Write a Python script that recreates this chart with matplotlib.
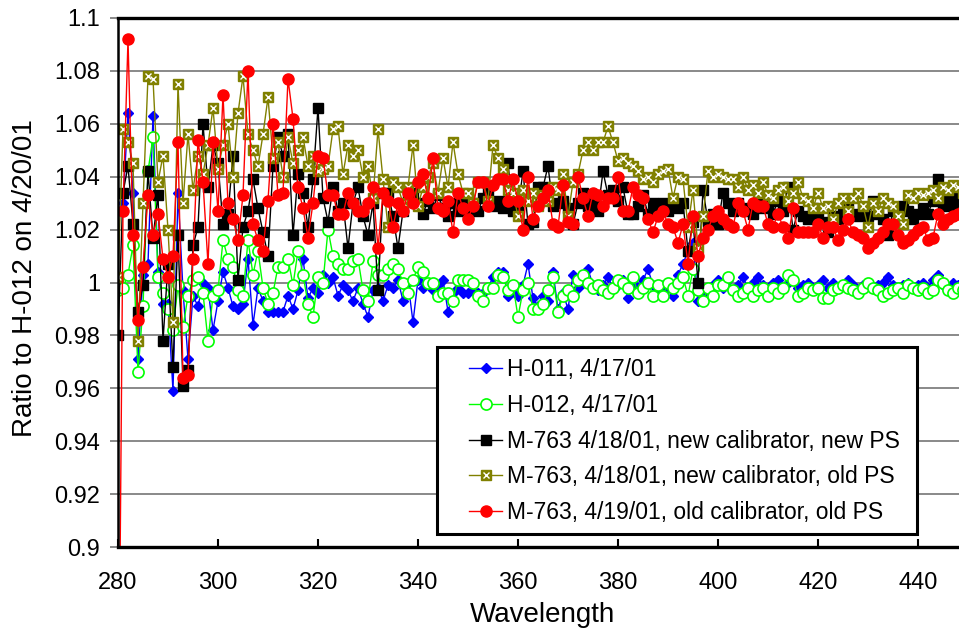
import matplotlib
matplotlib.use("Agg")
import matplotlib.pyplot as plt
from matplotlib.patches import Rectangle
from matplotlib.legend_handler import HandlerTuple
from matplotlib.ticker import FuncFormatter

plt.rcParams['font.family'] = ['Liberation Sans', 'DejaVu Sans']

# --- data (ratio to H-012 on 4/20/01), 1 nm steps ---
WAVELENGTH = list(range(280, 451))

H011 = [
    1.027, 1.030, 1.064, 1.034, 0.971, 1.003, 1.007, 1.063, 1.004, 0.992,
    0.992, 0.959, 1.034, 0.997, 0.971, 0.995, 0.991, 1.000, 0.998, 0.982,
    0.993, 1.004, 0.998, 0.991, 0.990, 0.992, 1.009, 0.984, 0.998, 0.993,
    0.989, 0.989, 0.989, 0.989, 0.995, 0.990, 0.997, 1.009, 0.994, 0.998,
    0.996, 1.003, 1.000, 1.002, 0.995, 0.999, 0.997, 0.993, 0.998, 0.992,
    0.987, 0.997, 0.998, 0.993, 0.999, 0.998, 1.001, 0.993, 1.000, 0.985,
    1.001, 0.998, 1.000, 0.997, 0.999, 1.001, 0.989, 0.996, 0.998, 0.996,
    0.996, 0.997, 0.996, 0.996, 0.998, 1.002, 1.004, 1.004, 0.995, 0.997,
    0.995, 0.999, 1.007, 0.994, 0.991, 0.995, 0.993, 1.004, 0.990, 0.996,
    0.990, 1.003, 0.998, 1.000, 1.005, 0.999, 0.997, 0.999, 1.002, 0.998,
    0.999, 1.001, 0.994, 1.000, 0.998, 1.001, 1.005, 0.999, 0.997, 0.999,
    0.998, 0.995, 1.003, 1.007, 1.012, 1.015, 0.993, 0.996, 0.998, 0.999,
    1.001, 0.998, 1.001, 0.997, 0.999, 1.002, 0.998, 1.000, 1.002, 0.999,
    0.997, 1.000, 1.001, 0.998, 1.000, 1.001, 0.998, 0.999, 1.000, 0.997,
    0.999, 1.001, 0.998, 1.000, 0.998, 0.999, 1.001, 0.999, 0.997, 0.999,
    1.000, 0.998, 0.999, 1.000, 1.002, 0.999, 0.998, 0.999, 1.000, 0.998,
    0.999, 1.000, 0.998, 1.001, 1.003, 0.999, 0.998, 1.000, 0.999, 0.998,
    0.999,
]

H012 = [
    0.997, 0.998, 1.003, 1.014, 0.966, 0.991, 1.042, 1.055, 1.002, 0.996,
    0.990, 0.982, 0.999, 0.983, 0.995, 1.001, 1.002, 0.996, 0.978, 0.995,
    0.997, 1.016, 1.009, 1.006, 0.997, 0.995, 1.016, 1.003, 1.012, 0.998,
    0.992, 0.996, 1.006, 1.006, 1.009, 0.999, 1.012, 1.003, 0.992, 0.987,
    1.002, 1.000, 1.020, 1.010, 1.007, 1.005, 1.005, 1.008, 1.009, 0.997,
    0.993, 1.008, 1.003, 1.003, 1.005, 1.007, 1.005, 1.000, 0.996, 1.001,
    1.006, 1.004, 1.000, 1.000, 0.995, 0.996, 0.996, 0.993, 1.001, 1.001,
    1.001, 1.000, 0.995, 0.993, 0.998, 0.998, 1.003, 1.002, 0.997, 0.999,
    0.987, 0.997, 1.000, 0.990, 0.990, 0.992, 0.997, 1.002, 0.989, 0.995,
    0.997, 0.995, 1.001, 1.003, 1.000, 0.998, 0.999, 0.997, 0.996, 0.998,
    1.001, 1.000, 0.998, 1.002, 0.996, 0.998, 1.000, 0.995, 0.999, 0.995,
    1.000, 0.998, 1.000, 1.002, 0.995, 1.005, 0.997, 0.993, 0.998, 0.995,
    0.999, 0.999, 1.002, 0.997, 0.995, 0.996, 0.998, 0.995, 0.997, 0.998,
    0.995, 0.998, 0.996, 0.998, 1.003, 1.001, 0.995, 0.996, 0.998, 0.997,
    0.998, 0.994, 0.994, 0.997, 0.998, 0.999, 0.998, 0.997, 0.996, 0.998,
    1.000, 0.998, 0.997, 0.995, 0.996, 0.997, 0.998, 0.996, 0.999, 0.998,
    0.997, 0.998, 0.996, 0.997, 1.001, 1.000, 0.997, 0.996, 0.998, 0.997,
    0.996,
]

M763_NEW_NEW = [
    0.980, 1.034, 1.044, 1.022, 0.989, 0.999, 1.042, 1.017, 1.033, 0.978,
    1.007, 0.968, 1.018, 0.961, 0.967, 1.014, 1.021, 1.060, 1.036, 1.052,
    1.045, 1.022, 1.026, 1.048, 1.001, 1.021, 1.027, 1.039, 1.028, 1.019,
    1.010, 1.044, 1.055, 1.048, 1.056, 1.018, 1.041, 1.034, 1.021, 1.039,
    1.066, 1.032, 1.023, 1.036, 1.027, 1.030, 1.013, 1.030, 1.036, 1.025,
    1.018, 1.030, 0.997, 1.034, 1.034, 1.025, 1.013, 1.027, 1.033, 1.034,
    1.030, 1.026, 1.031, 1.028, 1.033, 1.028, 1.025, 1.030, 1.027, 1.032,
    1.026, 1.030, 1.027, 1.032, 1.034, 1.029, 1.031, 1.028, 1.045, 1.027,
    1.028, 1.042, 1.022, 1.023, 1.036, 1.036, 1.044, 1.029, 1.030, 1.031,
    1.028, 1.022, 1.030, 1.034, 1.029, 1.031, 1.027, 1.042, 1.033, 1.035,
    1.031, 1.036, 1.026, 1.026, 1.029, 1.033, 1.026, 1.030, 1.028, 1.030,
    1.027, 1.029, 1.028, 1.030, 1.012, 1.023, 1.000, 1.035, 1.023, 1.026,
    1.022, 1.034, 1.030, 1.027, 1.030, 1.028, 1.027, 1.026, 1.030, 1.028,
    1.029, 1.026, 1.031, 1.027, 1.036, 1.020, 1.027, 1.025, 1.024, 1.028,
    1.026, 1.023, 1.019, 1.025, 1.024, 1.027, 1.030, 1.026, 1.025, 1.028,
    1.025, 1.031, 1.026, 1.024, 1.018, 1.027, 1.026, 1.029, 1.027, 1.024,
    1.026, 1.028, 1.026, 1.031, 1.039, 1.029, 1.032, 1.029, 1.033, 1.031,
    1.032,
]

M763_NEW_OLD = [
    1.002, 1.058, 1.053, 1.045, 0.978, 1.030, 1.078, 1.077, 1.038, 1.048,
    1.020, 0.985, 1.075, 1.030, 1.056, 1.035, 1.048, 1.041, 1.052, 1.066,
    1.043, 1.052, 1.060, 1.040, 1.064, 1.078, 1.056, 1.050, 1.044, 1.056,
    1.070, 1.047, 1.053, 1.040, 1.055, 1.045, 1.050, 1.055, 1.044, 1.048,
    1.042, 1.043, 1.044, 1.058, 1.059, 1.041, 1.052, 1.048, 1.050, 1.040,
    1.044, 1.032, 1.058, 1.039, 1.021, 1.038, 1.036, 1.030, 1.036, 1.052,
    1.029, 1.036, 1.040, 1.045, 1.034, 1.047, 1.036, 1.053, 1.041, 1.034,
    1.034, 1.030, 1.038, 1.038, 1.031, 1.052, 1.047, 1.043, 1.035, 1.034,
    1.025, 1.035, 1.031, 1.034, 1.029, 1.033, 1.031, 1.036, 1.035, 1.041,
    1.025, 1.038, 1.041, 1.050, 1.053, 1.050, 1.053, 1.053, 1.059, 1.053,
    1.046, 1.047, 1.045, 1.044, 1.042, 1.039, 1.040, 1.038, 1.041, 1.042,
    1.043, 1.032, 1.040, 1.039, 1.021, 1.035, 1.013, 1.025, 1.042, 1.040,
    1.041, 1.040, 1.039, 1.039, 1.036, 1.040, 1.035, 1.037, 1.034, 1.038,
    1.033, 1.032, 1.035, 1.036, 1.031, 1.034, 1.038, 1.032, 1.031, 1.028,
    1.034, 1.028, 1.029, 1.024, 1.030, 1.032, 1.027, 1.032, 1.034, 1.029,
    1.021, 1.030, 1.027, 1.032, 1.030, 1.029, 1.025, 1.022, 1.033, 1.032,
    1.034, 1.033, 1.034, 1.035, 1.032, 1.036, 1.035, 1.037, 1.036, 1.034,
    1.036,
]

M763_OLD_OLD = [
    0.800, 1.027, 1.092, 1.018, 0.986, 1.006, 1.033, 1.018, 1.026, 1.009,
    1.002, 1.010, 1.053, 0.964, 0.965, 1.009, 1.054, 1.038, 1.007, 1.053,
    1.027, 1.071, 1.030, 1.024, 1.016, 1.033, 1.080, 1.022, 1.016, 1.012,
    1.031, 1.060, 1.033, 1.034, 1.077, 1.062, 1.036, 1.028, 1.017, 1.030,
    1.048, 1.047, 1.033, 1.033, 1.026, 1.026, 1.034, 1.030, 1.027, 1.027,
    1.030, 1.036, 1.013, 1.034, 1.031, 1.021, 1.030, 1.027, 1.034, 1.030,
    1.038, 1.041, 1.032, 1.047, 1.028, 1.027, 1.031, 1.019, 1.034, 1.028,
    1.024, 1.029, 1.038, 1.038, 1.029, 1.037, 1.039, 1.039, 1.031, 1.039,
    1.031, 1.020, 1.040, 1.024, 1.029, 1.032, 1.035, 1.022, 1.021, 1.037,
    1.023, 1.022, 1.040, 1.032, 1.025, 1.034, 1.033, 1.029, 1.032, 1.032,
    1.040, 1.027, 1.027, 1.036, 1.033, 1.032, 1.024, 1.019, 1.025, 1.027,
    1.022, 1.021, 1.015, 1.022, 1.007, 1.025, 1.010, 1.017, 1.020, 1.025,
    1.027, 1.024, 1.022, 1.021, 1.030, 1.027, 1.020, 1.030, 1.029, 1.029,
    1.022, 1.021, 1.026, 1.021, 1.017, 1.028, 1.019, 1.019, 1.019, 1.019,
    1.022, 1.017, 1.021, 1.021, 1.016, 1.020, 1.024, 1.019, 1.018, 1.017,
    1.013, 1.015, 1.017, 1.019, 1.022, 1.022, 1.018, 1.015, 1.016, 1.018,
    1.020, 1.021, 1.016, 1.017, 1.026, 1.022, 1.024, 1.025, 1.026, 1.027,
    1.027,
]

LABELS = [
    "H-011, 4/17/01",
    "H-012, 4/17/01",
    "M-763 4/18/01, new calibrator, new PS",
    "M-763, 4/18/01, new calibrator, old PS",
    "M-763, 4/19/01, old calibrator, old PS",
]

OLIVE = "#808000"

fig = plt.figure(figsize=(9.59, 6.28), dpi=100)
W, H = 959.0, 628.0
# axes runs a little past the right edge, like the cropped original
ax = fig.add_axes([118 / W, 81 / H, 850 / W, 529 / H])

ax.set_xlim(280, 450)
ax.set_ylim(0.9, 1.1)
ax.set_yticks([0.9 + 0.02 * i for i in range(11)])
ax.set_xticks(list(range(280, 441, 20)))
ax.yaxis.set_major_formatter(FuncFormatter(lambda v, p: f"{round(v, 2):g}"))

ax.grid(axis="y", color="#808080", linewidth=1.3, zorder=0)
ax.set_axisbelow(True)

h_blue, = ax.plot(WAVELENGTH, H011, color="#0000FF", lw=1.0, marker="D",
                  ms=5, mfc="#0000FF", mec="#0000FF", zorder=3)
h_green, = ax.plot(WAVELENGTH, H012, color="#00FF00", lw=1.0, marker="o",
                   ms=8, mfc="white", mec="#00FF00", mew=1.2, zorder=4)
h_black, = ax.plot(WAVELENGTH, M763_NEW_NEW, color="black", lw=1.0, marker="s",
                   ms=7, mfc="black", mec="black", zorder=5)
h_olive, = ax.plot(WAVELENGTH, M763_NEW_OLD, color=OLIVE, lw=1.0, marker="s",
                   ms=7, mfc=OLIVE, mec=OLIVE, zorder=6)
h_olive_x, = ax.plot(WAVELENGTH, M763_NEW_OLD, ls="none", marker="x",
                     ms=5, mec="white", mew=1.0, zorder=6)
h_red, = ax.plot(WAVELENGTH, M763_OLD_OLD, color="#FF0000", lw=1.0, marker="o",
                 ms=8, mfc="#FF0000", mec="#FF0000", zorder=7)

for s in ["top", "bottom"]:
    ax.spines[s].set_linewidth(2.4)
ax.spines["left"].set_linewidth(1.8)
ax.spines["right"].set_visible(False)
for s in ax.spines.values():
    s.set_color("black")
    s.set_zorder(8)

ax.tick_params(axis="x", direction="in", length=6, width=1.5, color="black",
               labelsize=17, pad=18)
ax.tick_params(axis="y", direction="out", length=6, width=1.3, color="#808080",
               labelsize=17, pad=7)

ax.set_xlabel("Wavelength", fontsize=20)
ax.xaxis.set_label_coords(0.5, -0.104)
ax.set_ylabel("Ratio to H-012 on 4/20/01", fontsize=20)
ax.yaxis.set_label_coords(-0.094, 0.508)

# legend (frame drawn separately to get the wide left margin)
leg = fig.legend([h_blue, h_green, h_black, (h_olive, h_olive_x), h_red], LABELS,
                 loc="upper left", bbox_to_anchor=(458 / W, 1 - 347 / H),
                 frameon=False, fontsize=16.5, numpoints=1, handlelength=1.4,
                 handletextpad=0.25, labelspacing=0.55, borderpad=0,
                 handler_map={tuple: HandlerTuple(ndivide=1)})
fig.patches.append(Rectangle((437 / W, 1 - 534 / H), 480 / W, 187 / H,
                             transform=fig.transFigure, fill=True,
                             facecolor="white", edgecolor="black", lw=2.2,
                             zorder=9))
leg.set_zorder(10)

fig.savefig("out.png", dpi=100)
